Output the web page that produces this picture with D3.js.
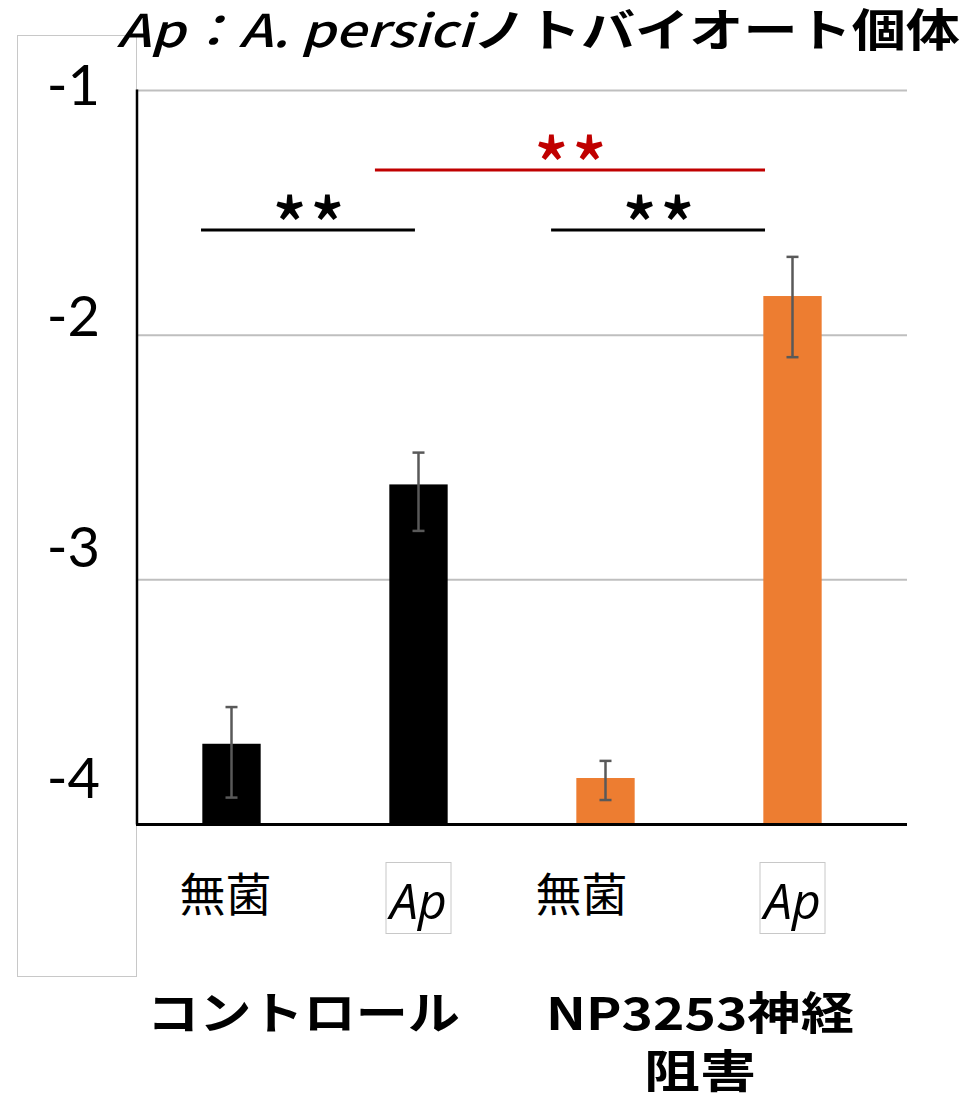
<!DOCTYPE html>
<html>
<head>
<meta charset="utf-8">
<script src="https://cdn.jsdelivr.net/npm/d3@7"></script>
<style>
  html, body { margin: 0; padding: 0; background: #fff; }
  svg { display: block; }
</style>
</head>
<body>
<svg id="chart" width="971" height="1096"></svg>
<script>
// ---- data ----
const categories = ["無菌", "Ap", "無菌", "Ap"];
const groups = ["コントロール", "NP3253神経\n阻害"];
const groupOf = [0, 0, 1, 1];
const means = [-3.67, -2.61, -3.81, -1.84];
const errHigh = [-3.52, -2.48, -3.74, -1.68];
const errLow = [-3.89, -2.80, -3.90, -2.09];
const yTicks = [-1, -2, -3, -4];
const titleItalic = "Ap：A. persici";
const titleRest = "ノトバイオート個体";
// significance: pairs of categories, drawn as a line with asterisks above
const sigLabels = ["**", "**", "**"];

// ---- layout ----
const svg = d3.select("#chart");
const barColors = ["#000000", "#000000", "#ED7D31", "#ED7D31"];
const plotLeft = 137, plotRight = 907;
const bandLeft = 138, bandRight = 886;

const x = d3.scaleBand()
  .domain(d3.range(categories.length))
  .range([bandLeft, bandRight])
  .paddingInner(0.688)
  .paddingOuter(0.344);
const step = x.step();
const cx = i => x(i) + x.bandwidth() / 2;
// continuous category position (0 = centre of first bar)
const pos = p => cx(0) + p * step;

const y = d3.scaleLinear().domain([-4, -1]).range([824.5, 90.5]);
// the tick labels sit in their own text box beside the plot
const yLabel = d3.scaleLinear().domain([-4, -1]).range([776, 83]);

// label box on the left
svg.append("rect")
  .attr("x", 17.5).attr("y", 35.5).attr("width", 119).attr("height", 941)
  .attr("fill", "none").attr("stroke", "#c8c8c8").attr("stroke-width", 1);

// gridlines
svg.append("g").selectAll("line")
  .data(yTicks.filter(t => t !== -4))
  .join("line")
  .attr("x1", plotLeft).attr("x2", plotRight)
  .attr("y1", d => y(d)).attr("y2", d => y(d))
  .attr("stroke", "#bfbfbf").attr("stroke-width", 2);

// tick labels
svg.append("g").selectAll("text")
  .data(yTicks)
  .join("text")
  .attr("x", 100)
  .attr("y", d => yLabel(d))
  .attr("text-anchor", "end")
  .attr("dominant-baseline", "central")
  .attr("font-family", "Lato, 'Open Sans', sans-serif")
  .attr("font-size", 56)
  .attr("fill", "#000")
  .text(d => d);

// bars
svg.append("g").selectAll("rect")
  .data(means)
  .join("rect")
  .attr("x", (d, i) => x(i))
  .attr("width", x.bandwidth())
  .attr("y", d => y(d))
  .attr("height", d => y(-4) - y(d))
  .attr("fill", (d, i) => barColors[i]);

// error bars
const eb = svg.append("g").attr("stroke", "#595959").attr("stroke-width", 2.5);
means.forEach((m, i) => {
  const c = cx(i);
  eb.append("line").attr("x1", c).attr("x2", c).attr("y1", y(errHigh[i])).attr("y2", y(errLow[i]));
  eb.append("line").attr("x1", c - 6).attr("x2", c + 6).attr("y1", y(errHigh[i])).attr("y2", y(errHigh[i]));
  eb.append("line").attr("x1", c - 6).attr("x2", c + 6).attr("y1", y(errLow[i])).attr("y2", y(errLow[i]));
});

// axes lines
svg.append("line")
  .attr("x1", plotLeft).attr("x2", plotLeft)
  .attr("y1", y(-1) - 1).attr("y2", y(-4))
  .attr("stroke", "#000").attr("stroke-width", 2.5);
svg.append("line")
  .attr("x1", plotLeft - 1).attr("x2", plotRight)
  .attr("y1", y(-4)).attr("y2", y(-4))
  .attr("stroke", "#000").attr("stroke-width", 3);

// significance brackets
const brackets = [
  { from: -0.163, to: 0.981, yv: -1.57, color: "#000000", label: sigLabels[0] },
  { from: 1.709, to: 2.853, yv: -1.57, color: "#000000", label: sigLabels[1] },
  { from: 0.767, to: 2.853, yv: -1.325, color: "#C00000", label: sigLabels[2] }
];
brackets.forEach(b => {
  svg.append("line")
    .attr("x1", pos(b.from)).attr("x2", pos(b.to))
    .attr("y1", y(b.yv)).attr("y2", y(b.yv))
    .attr("stroke", b.color).attr("stroke-width", 3);
  svg.append("text")
    .attr("x", (pos(b.from) + pos(b.to)) / 2 + 2)
    .attr("y", y(b.yv) + 22)
    .attr("text-anchor", "middle")
    .attr("font-family", "'Noto Sans CJK JP', sans-serif")
    .attr("font-weight", "500")
    .attr("font-size", 72)
    .attr("letter-spacing", 3)
    .attr("fill", b.color)
    .text(b.label);
});

// category labels
const catDx = [-6, 0, -24, 0];
categories.forEach((c, i) => {
  if (c === "Ap") {
    svg.append("rect")
      .attr("x", cx(i) - 32.5).attr("y", 862.5)
      .attr("width", 65).attr("height", 71)
      .attr("fill", "#fff").attr("stroke", "#c8c8c8").attr("stroke-width", 1);
    svg.append("text")
      .attr("x", cx(i)).attr("y", 919)
      .attr("text-anchor", "middle")
      .attr("font-family", "'Open Sans', sans-serif")
      .attr("font-style", "italic")
      .attr("font-size", 50)
      .attr("fill", "#000")
      .text(c);
  } else {
    svg.append("text")
      .attr("x", cx(i) + catDx[i]).attr("y", 891)
      .attr("text-anchor", "middle")
      .attr("dominant-baseline", "central")
      .attr("font-family", "'Noto Sans CJK JP', sans-serif")
      .attr("font-size", 46)
      .attr("fill", "#000")
      .text(c);
  }
});

// group labels
const groupCenters = [303.5, 700];
const groupWidths = [[313], [308, 112]];
groups.forEach((g, gi) => {
  const lines = g.split("\n");
  lines.forEach((ln, li) => {
    svg.append("text")
      .attr("x", groupCenters[gi]).attr("y", 1010 + li * 58)
      .attr("text-anchor", "middle")
      .attr("dominant-baseline", "central")
      .attr("font-family", "'Noto Sans CJK JP', sans-serif")
      .attr("font-weight", "bold")
      .attr("font-size", 45)
      .attr("textLength", groupWidths[gi][li])
      .attr("lengthAdjust", "spacingAndGlyphs")
      .attr("fill", "#000")
      .text(ln);
  });
});

// title
const title = svg.append("text")
  .attr("x", 117).attr("y", 47)
  .attr("font-family", "'Noto Sans CJK JP', sans-serif")
  .attr("font-weight", "bold")
  .attr("font-size", 45)
  .attr("textLength", 843)
  .attr("lengthAdjust", "spacingAndGlyphs")
  .attr("fill", "#000");
title.append("tspan").attr("font-style", "italic").attr("font-weight", "500").text(titleItalic);
title.append("tspan").text(titleRest);
</script>
</body>
</html>
